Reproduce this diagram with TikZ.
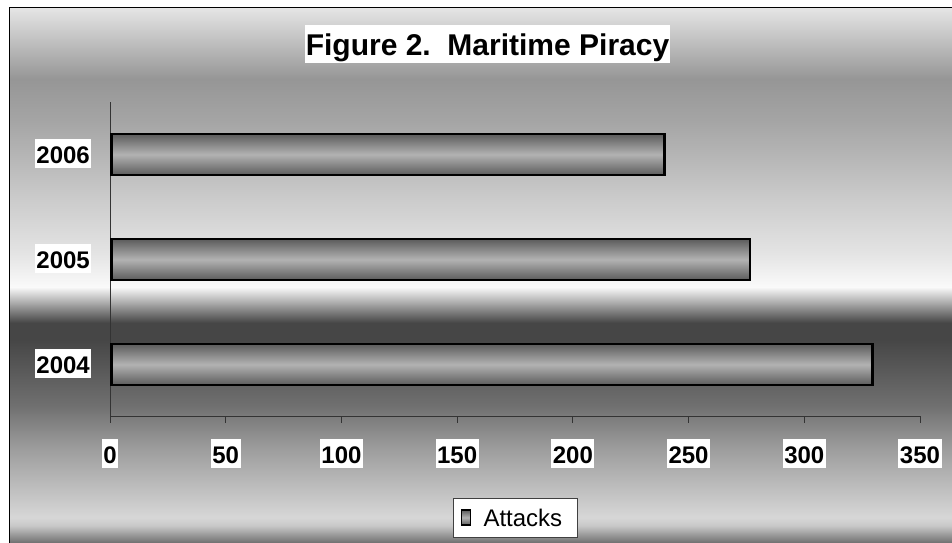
\documentclass[tikz,border=0pt]{standalone}
\usepackage{fontspec}
\setmainfont{Liberation Sans}
\usetikzlibrary{positioning}
\pgfdeclareverticalshading{chartbg}{100bp}{color(0bp)=(black!70.6); color(25bp)=(black!70.6);
  color(27.24bp)=(black!21.6); color(27.99bp)=(black!15.7); color(34.53bp)=(black!39.2);
  color(38.27bp)=(black!56.1); color(44.35bp)=(black!72.5); color(45.93bp)=(black!72.5);
  color(49.21bp)=(black!2); color(52.29bp)=(black!10.6); color(56.96bp)=(black!19.6);
  color(64.44bp)=(black!35.3); color(68.36bp)=(black!41.2); color(75bp)=(black!9.8);
  color(100bp)=(black!9.8)}
\tikzstyle{barbox} = [draw=black,line width=2.5pt,rectangle,inner sep=0pt,
  top color=black!64,bottom color=black!64,middle color=black!30,minimum height=41pt]
\tikzstyle{keybox} = [draw=black,line width=1.5pt,rectangle,inner sep=0pt,
  top color=black!64,bottom color=black!64,middle color=black!30,
  minimum width=9pt,minimum height=15pt]
\tikzstyle{lblbox} = [fill=white,font=\fontsize{24pt}{26pt}\selectfont\bfseries,
  inner xsep=1.5pt,inner ysep=0pt,text height=24pt,text depth=5pt]
\tikzstyle{titlebox} = [fill=white,font=\fontsize{30pt}{32pt}\selectfont\bfseries,
  inner xsep=1pt,inner ysep=0pt,text height=30pt,text depth=8pt]
\tikzstyle{legendbox} = [draw=black!75,fill=white,rectangle,inner sep=0pt,
  minimum width=124pt,minimum height=39pt]
\tikzstyle{axisline} = [draw=black!80,line width=1pt]

\begin{document}
\begin{tikzpicture}[x=1pt,y=-1pt]
    \useasboundingbox (0,0) rectangle (952,542);
    \shade[shading=chartbg] (9,7) rectangle (960,550);
    \draw[black,line width=1pt] (9,560) -- (9,7) -- (970,7);
    % axes
    \coordinate (origin) at (110,416);
    \coordinate (ytop) at (110,102);
    \coordinate (xend) at (920,416);
    \draw[axisline] (ytop) -- (origin) -- (xend);
    \foreach \t in {0,...,7} {%
      \pgfmathtruncatemacro{\lab}{\t*50}
      \draw[axisline] ([xshift=\t*115.714pt]origin) -- ++(0,7);
      \node[lblbox] (tick\lab) at (110+\t*115.714,453.5) {\lab};
    }
    % bars
    \foreach \yr/\val/\row in {2006/239/154.5,2005/276/259.5,2004/329/364.5} {%
      \pgfmathsetmacro{\barw}{\val*2.3143}
      \node[barbox,anchor=west,minimum width=\barw pt] (bar\yr) at (110,\row) {};
      \node[lblbox,anchor=east] (lbl\yr) at (91.5,\row-1) {\yr};
    }
    \node[titlebox] (title) at (487.5,44) {Figure 2.\ \ Maritime Piracy};
    % legend
    \node[legendbox] (legend) at (515,517.5) {};
    \node[keybox,anchor=west] (key) at ([xshift=8pt]legend.west) {};
    \node[font=\fontsize{24pt}{26pt}\selectfont,inner sep=1pt,right=11pt of key] (keytext) {Attacks};
\end{tikzpicture}
\end{document}
